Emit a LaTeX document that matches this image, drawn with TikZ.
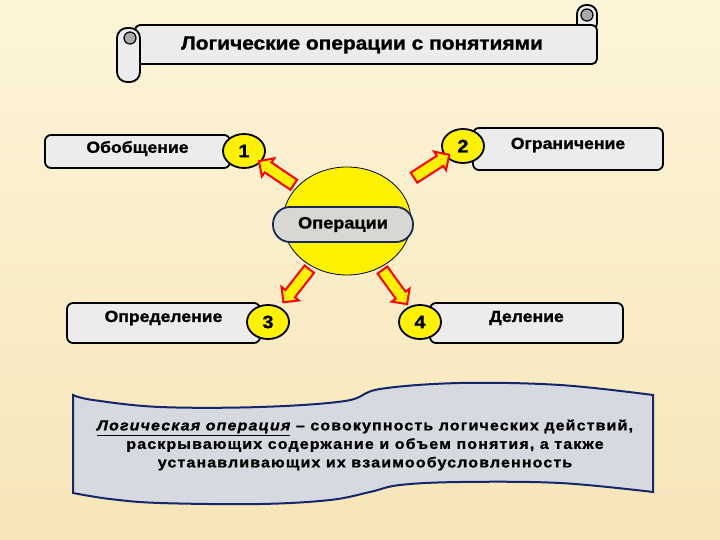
\documentclass[tikz,border=0pt]{standalone}
\usepackage{fontspec}
\setmainfont{Liberation Sans}
\newfontfamily\heavy{Liberation Sans}[FakeStretch=1.1, FakeBold=1.2]
\newfontfamily\heavysp{Liberation Sans}[FakeStretch=1.1, FakeBold=1.2, LetterSpace=8]
\usetikzlibrary{shapes.geometric,shapes.arrows}

\definecolor{bgtop}{HTML}{FDF5D8}
\definecolor{bgbot}{HTML}{F6E5B8}
\definecolor{boxgray}{HTML}{ECECEC}
\definecolor{opgray}{HTML}{D9D7D1}
\definecolor{navy}{HTML}{1B2A55}
\definecolor{notegray}{HTML}{D6D9DF}
\definecolor{notenavy}{HTML}{16266B}
\definecolor{curl}{HTML}{A9A9A9}

\tikzset{
  opbox/.style={draw=black, fill=boxgray, line width=1.8pt, rounded corners=6pt},
  numcirc/.style={ellipse, draw=black, fill=yellow, line width=1.8pt, minimum width=42pt,
    minimum height=34pt, inner sep=0pt, font=\heavy\bfseries\fontsize{18}{18}\selectfont},
  lbl/.style={font=\heavy\bfseries\fontsize{16}{16}\selectfont, inner sep=0pt},
  barrow/.style={single arrow, draw=red, fill=yellow, line width=2pt, minimum height=42pt,
    single arrow head extend=5pt, inner sep=5pt, sloped, allow upside down},
}

\begin{document}
\begin{tikzpicture}[x=1pt,y=-1pt]

    % background
    \shade[top color=bgtop, bottom color=bgbot] (0,0) rectangle (720,540);
    \useasboundingbox (0,0) rectangle (720,540);

    % title scroll
    \filldraw[fill=boxgray, line width=1.8pt, rounded corners=9pt] (577,5) rectangle (597,32);
    \filldraw[fill=boxgray, line width=1.8pt, rounded corners=5pt] (135,25) rectangle (597,64);
    \filldraw[fill=boxgray, line width=1.8pt, rounded corners=10pt] (117,28) rectangle (140,82);
    \filldraw[fill=curl, line width=1.2pt] (130,38) circle (6pt);
    \filldraw[fill=curl, line width=1.2pt] (587,15) circle (6pt);
    \node[lbl, font=\heavy\bfseries\fontsize{19}{19}\selectfont] (title) at (362,45) {Логические операции с понятиями};

    % boxes
    \node[opbox, minimum width=185pt, minimum height=33pt] (obob) at (137.5,151.5) {};
    \node[opbox, minimum width=190pt, minimum height=42pt] (ogr) at (568,149) {};
    \node[opbox, minimum width=193pt, minimum height=40pt] (opr) at (163.5,323) {};
    \node[opbox, minimum width=193pt, minimum height=40pt] (del) at (526.5,323) {};

    \node[lbl] (obobt) at ([yshift=3pt]obob.center) {Обобщение};
    \node[lbl] (ogrt) at ([yshift=4pt]ogr.center) {Ограничение};
    \node[lbl] (oprt) at ([yshift=5pt]opr.center) {Определение};
    \node[lbl] (delt) at ([yshift=5pt]del.center) {Деление};

    % centre
    \node[ellipse, draw, fill=yellow, line width=0.8pt, minimum width=128pt, minimum height=108pt] (ops) at (347,221) {};
    \node[lbl, draw=navy, fill=opgray, line width=1.8pt, rounded corners=17pt, minimum width=140pt,
      minimum height=35pt, font=\heavy\bfseries\fontsize{16.5}{16.5}\selectfont] (opname) at (343,224.5) {Операции};

    \node[numcirc] (n1) at (244,151) {1};
    \node[numcirc] (n2) at (463,146) {2};
    \node[numcirc] (n3) at (268,322) {3};
    \node[numcirc] (n4) at (420,322) {4};

    \path (ops) -- (n1) node[barrow, pos=.5] (a1) {};
    \path (ops) -- (n2) node[barrow, pos=.65] (a2) {};
    \path (ops) -- (n3) node[barrow, pos=.42] (a3) {};
    \path (ops) -- (n4) node[barrow, pos=.44] (a4) {};

    % definition
    \filldraw[fill=notegray, draw=notenavy, line width=2pt]
      plot[smooth, tension=.6] coordinates {(73,395) (93,400) (160,407) (260,407) (345,401) (380,389) (460,383) (560,385) (653,395)}
      -- (653,492)
      -- plot[smooth, tension=.6] coordinates {(653,492) (560,483) (460,482) (400,485) (370,492) (330,500) (260,504) (160,503) (110,499) (73,493)}
      -- cycle;
    \node[align=center, font=\heavysp\bfseries\fontsize{14.5}{18.5}\selectfont] (def) at (365,445)
      {\underline{\itshape Логическая операция} – совокупность логических действий,\\
       раскрывающих содержание и объем понятия, а также\\
       устанавливающих их взаимообусловленность};

\end{tikzpicture}
\end{document}
